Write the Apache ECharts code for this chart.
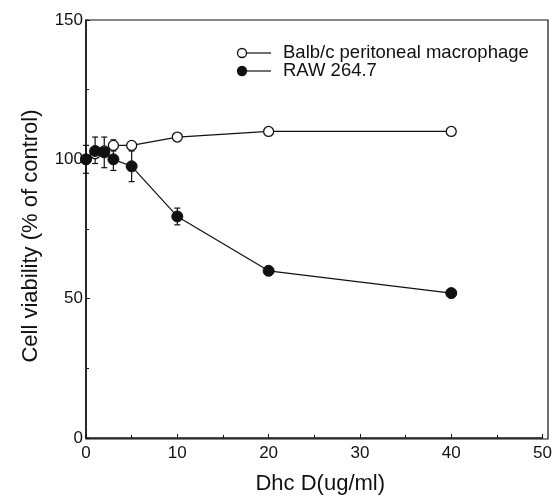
<!DOCTYPE html>
<html>
<head>
<meta charset="utf-8">
<script src="https://cdn.jsdelivr.net/npm/echarts@6/dist/echarts.min.js"></script>
<style>
  html, body { margin: 0; padding: 0; background: #fff; }
  #chart { width: 555px; height: 500px; }
</style>
</head>
<body>
<div id="chart"></div>
<script>
// Dhc D concentration (ug/ml)
const doses = [0, 1, 2, 3, 5, 10, 20, 40];

// cell viability, % of control
const balbValues = [100, 102, 103, 105, 105, 108, 110, 110];
const rawValues = [100, 103, 102.5, 100, 97.5, 79.5, 60, 52];

// error bars: [dose, low, high]
const balbErrors = [[3, 103, 107], [5, 104, 106]];
const rawErrors = [[0, 95, 105], [1, 98.5, 108], [2, 97, 108], [3, 96, 104], [5, 92, 103], [10, 76.5, 82.5]];

const xTicks = [0, 10, 20, 30, 40, 50];
const yTicks = [0, 50, 100, 150];

const legendNames = ['Balb/c peritoneal macrophage', 'RAW 264.7'];

const FONT = '"Liberation Sans", Arial, Helvetica, sans-serif';
const chart = echarts.init(document.getElementById('chart'));

function errorBarSeries(data) {
  return {
    type: 'custom',
    silent: true,
    z: 1,
    data: data,
    renderItem(params, api) {
      const x = api.value(0);
      const lo = api.coord([x, api.value(1)]);
      const hi = api.coord([x, api.value(2)]);
      const hw = 3;
      const style = { stroke: '#111', lineWidth: 1.2 };
      return {
        type: 'group',
        children: [
          { type: 'line', shape: { x1: lo[0], y1: lo[1], x2: hi[0], y2: hi[1] }, style },
          { type: 'line', shape: { x1: lo[0] - hw, y1: lo[1], x2: lo[0] + hw, y2: lo[1] }, style },
          { type: 'line', shape: { x1: hi[0] - hw, y1: hi[1], x2: hi[0] + hw, y2: hi[1] }, style },
        ],
      };
    },
  };
}

function legendRow(y, filled, label) {
  return [
    { type: 'line', shape: { x1: 242, y1: y, x2: 271, y2: y }, style: { stroke: '#111', lineWidth: 1.2 } },
    { type: 'circle', shape: { cx: 242, cy: y, r: 4.5 }, style: { fill: filled ? '#111' : '#fff', stroke: '#111', lineWidth: 1.3 } },
    { type: 'text', x: 283, y: y, style: { text: label, font: '18.5px ' + FONT, fill: '#111', verticalAlign: 'middle' } },
  ];
}

chart.setOption({
  animation: false,
  backgroundColor: '#fff',
  textStyle: { fontFamily: FONT },
  grid: { left: 86, right: 7, top: 20, bottom: 61 },
  xAxis: {
    type: 'value',
    min: 0, max: 50, interval: 10,
    name: 'Dhc D(ug/ml)',
    nameLocation: 'middle',
    nameGap: 35,
    nameTextStyle: { fontSize: 22, color: '#111', fontFamily: FONT, padding: [0, 0, 0, 12] },
    axisLine: { show: true, onZero: false, lineStyle: { color: '#111', width: 1.5 } },
    axisTick: { inside: true, length: 4, lineStyle: { color: '#111' } },
    minorTick: { show: true, splitNumber: 2, length: 3, lineStyle: { color: '#111' } },
    axisLabel: { fontSize: 17, color: '#111', margin: 7, fontFamily: FONT,
      formatter: (v) => (xTicks.includes(v) ? String(v) : '') },
    splitLine: { show: false },
  },
  yAxis: {
    type: 'value',
    min: 0, max: 150, interval: 50,
    name: 'Cell viability (% of control)',
    nameLocation: 'middle',
    nameGap: 44,
    nameTextStyle: { fontSize: 22, color: '#111', fontFamily: FONT, padding: [0, 14, 0, 0] },
    axisLine: { show: true, onZero: false, lineStyle: { color: '#111', width: 1.5 } },
    axisTick: { inside: true, length: 4, lineStyle: { color: '#111' } },
    minorTick: { show: true, splitNumber: 2, length: 3, lineStyle: { color: '#111' } },
    axisLabel: { fontSize: 17, color: '#111', margin: 3, fontFamily: FONT,
      formatter: (v) => (yTicks.includes(v) ? String(v) : '') },
    splitLine: { show: false },
  },
  graphic: [
    // frame top and right
    { type: 'rect', shape: { x: 86, y: 20, width: 462, height: 419 }, style: { fill: 'none', stroke: '#111', lineWidth: 1.2 }, silent: true, z: 0 },
    ...legendRow(53, false, legendNames[0]),
    ...legendRow(71, true, legendNames[1]),
  ],
  series: [
    errorBarSeries(balbErrors),
    errorBarSeries(rawErrors),
    {
      name: legendNames[0],
      type: 'line',
      z: 3,
      data: doses.map((d, i) => [d, balbValues[i]]),
      symbol: 'circle',
      symbolSize: 10,
      lineStyle: { color: '#111', width: 1.2 },
      itemStyle: { color: '#fff', borderColor: '#111', borderWidth: 1.3 },
    },
    {
      name: legendNames[1],
      type: 'line',
      z: 4,
      data: doses.map((d, i) => [d, rawValues[i]]),
      symbol: 'circle',
      symbolSize: 11,
      lineStyle: { color: '#111', width: 1.2 },
      itemStyle: { color: '#111', borderColor: '#111', borderWidth: 1 },
    },
  ],
});
</script>
</body>
</html>
